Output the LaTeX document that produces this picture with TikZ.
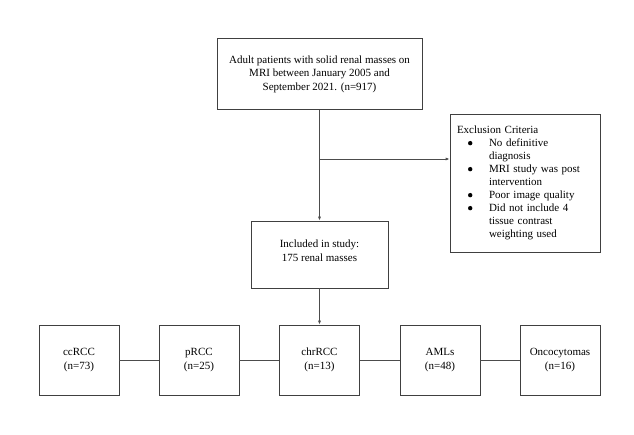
\documentclass[tikz,border=0pt]{standalone}
\usepackage{fontspec}
\setmainfont{Liberation Serif}
\usetikzlibrary{arrows.meta}
\newcommand{\mybul}{\makebox[21pt][l]{\raisebox{0.25ex}{\tikz\fill (0,0) circle (2.2pt);}}}
\newcommand{\bitem}{\hspace*{11pt}\mybul}
\newcommand{\bcont}{\hspace*{32pt}}
\begin{document}
\begin{tikzpicture}[x=1pt,y=-1pt,
  box/.style={draw=black!75, line width=0.8pt, align=center, font=\fontsize{11}{13.5}\selectfont, inner sep=0pt},
  conn/.style={draw=black!70, line width=0.8pt},
  arr/.style={conn, -{Latex[length=4pt,width=3.2pt]}}]
\useasboundingbox (0,0) rectangle (634,435);
\node[box, minimum width=205pt, minimum height=71pt] (top) at (319.5,74) {Adult patients with solid renal masses on\\MRI between January 2005 and\\September 2021. (n=917)};
\node[box, minimum width=150pt, minimum height=138pt, align=left, text width=136pt, font=\fontsize{11}{13}\selectfont] (excl) at (525,183)
{Exclusion Criteria\\
\bitem No definitive\\
\bcont diagnosis\\
\bitem MRI study was post\\
\bcont intervention\\
\bitem Poor image quality\\
\bitem Did not include 4\\
\bcont tissue contrast\\
\bcont weighting used};
\node[box, minimum width=137pt, minimum height=67pt, text depth=8pt] (inc) at (319.5,254.5) {Included in study:\\175 renal masses};
\node[box, minimum width=80pt, minimum height=70pt] (cc) at (79,360) {ccRCC\\(n=73)};
\node[box, minimum width=80pt, minimum height=70pt] (p) at (199,360) {pRCC\\(n=25)};
\node[box, minimum width=80pt, minimum height=70pt] (chr) at (319.5,360) {chrRCC\\(n=13)};
\node[box, minimum width=80pt, minimum height=70pt] (aml) at (440,360) {AMLs\\(n=48)};
\node[box, minimum width=80pt, minimum height=70pt] (onc) at (560,360) {Oncocytomas\\(n=16)};
\coordinate (br) at (319.5,159);
\draw[arr] (top.south) -- (inc.north);
\draw[arr] (br) -- (excl.west |- br);
\draw[arr] (inc.south) -- (chr.north);
\draw[conn] (cc.east) -- (p.west);
\draw[conn] (p.east) -- (chr.west);
\draw[conn] (chr.east) -- (aml.west);
\draw[conn] (aml.east) -- (onc.west);
\end{tikzpicture}
\end{document}
